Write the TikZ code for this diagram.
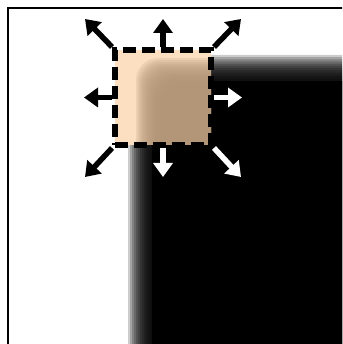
\documentclass[tikz,border=0pt]{standalone}
\usepackage{xcolor}
\usepackage{tikz}
\usetikzlibrary{arrows.meta,positioning,calc}

\definecolor{skin}{RGB}{252,222,193}
\definecolor{skindark}{RGB}{178,147,117}

\begin{document}
\begin{tikzpicture}[x=1pt, y=-1pt,
    win/.style={draw=black, line width=6pt, dash pattern=on 13pt off 6pt,
        minimum width=96pt, minimum height=95pt, inner sep=0pt},
    arr/.style={line width=5.5pt, -{Triangle[width=19pt,length=14pt]}},
    blk/.style={arr, draw=black},
    wht/.style={arr, draw=white}]
\useasboundingbox (0,0) rectangle (342,344);
\clip (0,0) rectangle (342,344);
\fill[white] (0,0) rectangle (342,344);
% blurred dark region
\foreach \i in {0,...,11}
    \fill[black, fill opacity=0.2, rounded corners=4pt] (128+2*\i,55+2.2*\i) rectangle (360,360);
\fill[black] (152,81) rectangle (360,360);
\draw[line width=2.5pt] (8,360) -- (8,8) -- (360,8);
% window contents
\begin{scope}
\clip (115,50) rectangle (211,145);
\fill[skin] (115,50) rectangle (211,145);
\foreach \i in {0,...,13}
    \fill[skindark, fill opacity=0.2, rounded corners=22pt] (136+1.8*\i,58+1.9*\i) rectangle (260,200);
\end{scope}
\node[win] (sq) at (163,97.5) {};
\coordinate (tipN)  at (163,19);
\coordinate (tipNE) at (241,19);
\coordinate (tipE)  at (242,97.5);
\coordinate (tipSE) at (241,177);
\coordinate (tipS)  at (163,177);
\coordinate (tipSW) at (85,177);
\coordinate (tipW)  at (84,97.5);
\coordinate (tipNW) at (85,19);
\draw[blk] (sq.north) -- (tipN);
\draw[blk] (sq.north east) -- (tipNE);
\draw[wht] (sq.east) -- (tipE);
\draw[wht] (sq.south east) -- (tipSE);
\draw[wht] (sq.south) -- (tipS);
\draw[blk] (sq.south west) -- (tipSW);
\draw[blk] (sq.west) -- (tipW);
\draw[blk] (sq.north west) -- (tipNW);
\end{tikzpicture}
\end{document}
